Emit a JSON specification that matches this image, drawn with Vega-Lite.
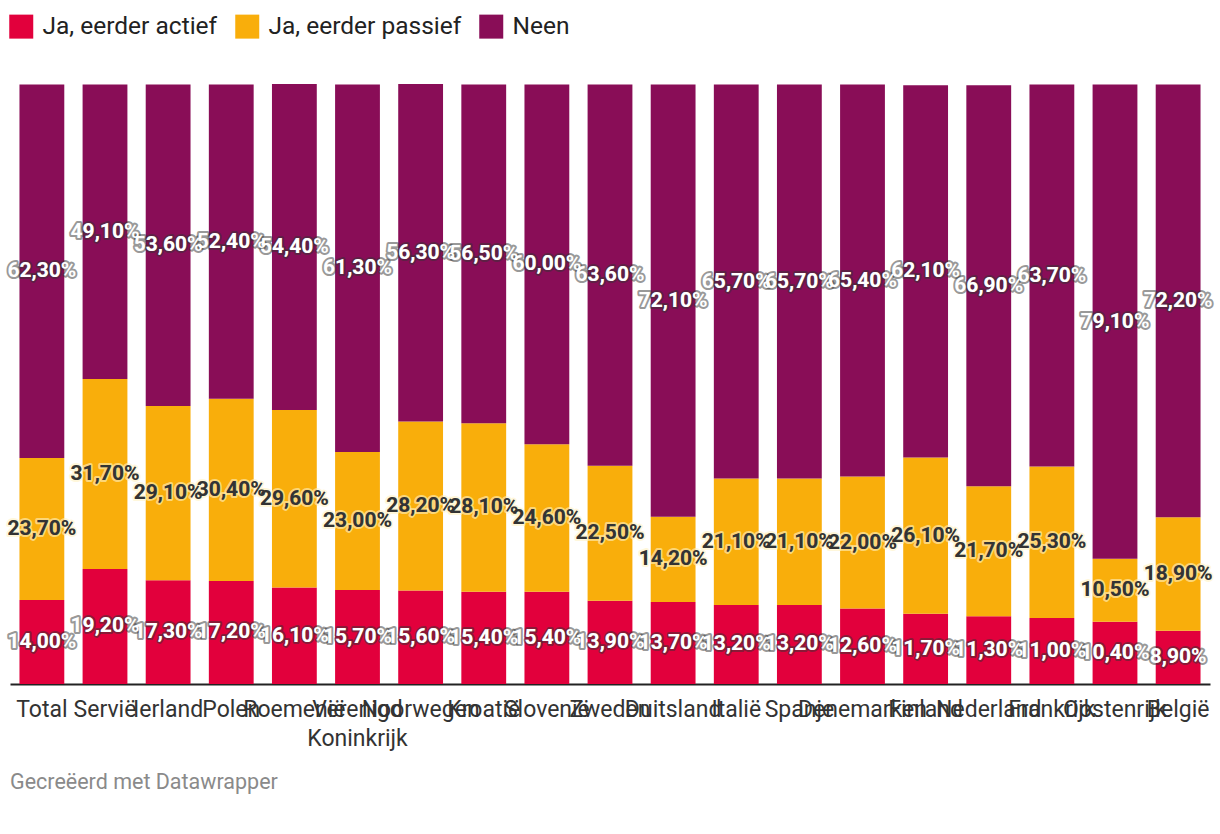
{
  "$schema": "https://vega.github.io/schema/vega-lite/v6.json",
  "autosize": "none",
  "width": 1200,
  "height": 600,
  "padding": {"left": 10, "top": 84, "right": 10, "bottom": 150},
  "background": "white",
  "config": {
    "font": "Roboto",
    "view": {"stroke": null},
    "locale": {"number": {"decimal": ",", "thousands": ".", "grouping": [3], "currency": ["", "%"]}}
  },
  "title": {
    "text": "Gecreëerd met Datawrapper",
    "orient": "bottom",
    "anchor": "start",
    "frame": "group",
    "offset": 22,
    "fontSize": 21.5,
    "fontWeight": "normal",
    "color": "#8a8a8a",
    "font": "Roboto"
  },
  "data": {
    "values": [
      {"country": "Total", "cat": "Ja, eerder actief", "value": 14.0},
      {"country": "Total", "cat": "Ja, eerder passief", "value": 23.7},
      {"country": "Total", "cat": "Neen", "value": 62.3},
      {"country": "Servië", "cat": "Ja, eerder actief", "value": 19.2},
      {"country": "Servië", "cat": "Ja, eerder passief", "value": 31.7},
      {"country": "Servië", "cat": "Neen", "value": 49.1},
      {"country": "Ierland", "cat": "Ja, eerder actief", "value": 17.3},
      {"country": "Ierland", "cat": "Ja, eerder passief", "value": 29.1},
      {"country": "Ierland", "cat": "Neen", "value": 53.6},
      {"country": "Polen", "cat": "Ja, eerder actief", "value": 17.2},
      {"country": "Polen", "cat": "Ja, eerder passief", "value": 30.4},
      {"country": "Polen", "cat": "Neen", "value": 52.4},
      {"country": "Roemenië", "cat": "Ja, eerder actief", "value": 16.1},
      {"country": "Roemenië", "cat": "Ja, eerder passief", "value": 29.6},
      {"country": "Roemenië", "cat": "Neen", "value": 54.4},
      {"country": "Verenigd Koninkrijk", "cat": "Ja, eerder actief", "value": 15.7},
      {"country": "Verenigd Koninkrijk", "cat": "Ja, eerder passief", "value": 23.0},
      {"country": "Verenigd Koninkrijk", "cat": "Neen", "value": 61.3},
      {"country": "Noorwegen", "cat": "Ja, eerder actief", "value": 15.6},
      {"country": "Noorwegen", "cat": "Ja, eerder passief", "value": 28.2},
      {"country": "Noorwegen", "cat": "Neen", "value": 56.3},
      {"country": "Kroatië", "cat": "Ja, eerder actief", "value": 15.4},
      {"country": "Kroatië", "cat": "Ja, eerder passief", "value": 28.1},
      {"country": "Kroatië", "cat": "Neen", "value": 56.5},
      {"country": "Slovenië", "cat": "Ja, eerder actief", "value": 15.4},
      {"country": "Slovenië", "cat": "Ja, eerder passief", "value": 24.6},
      {"country": "Slovenië", "cat": "Neen", "value": 60.0},
      {"country": "Zweden", "cat": "Ja, eerder actief", "value": 13.9},
      {"country": "Zweden", "cat": "Ja, eerder passief", "value": 22.5},
      {"country": "Zweden", "cat": "Neen", "value": 63.6},
      {"country": "Duitsland", "cat": "Ja, eerder actief", "value": 13.7},
      {"country": "Duitsland", "cat": "Ja, eerder passief", "value": 14.2},
      {"country": "Duitsland", "cat": "Neen", "value": 72.1},
      {"country": "Italië", "cat": "Ja, eerder actief", "value": 13.2},
      {"country": "Italië", "cat": "Ja, eerder passief", "value": 21.1},
      {"country": "Italië", "cat": "Neen", "value": 65.7},
      {"country": "Spanje", "cat": "Ja, eerder actief", "value": 13.2},
      {"country": "Spanje", "cat": "Ja, eerder passief", "value": 21.1},
      {"country": "Spanje", "cat": "Neen", "value": 65.7},
      {"country": "Denemarken", "cat": "Ja, eerder actief", "value": 12.6},
      {"country": "Denemarken", "cat": "Ja, eerder passief", "value": 22.0},
      {"country": "Denemarken", "cat": "Neen", "value": 65.4},
      {"country": "Finland", "cat": "Ja, eerder actief", "value": 11.7},
      {"country": "Finland", "cat": "Ja, eerder passief", "value": 26.1},
      {"country": "Finland", "cat": "Neen", "value": 62.1},
      {"country": "Nederland", "cat": "Ja, eerder actief", "value": 11.3},
      {"country": "Nederland", "cat": "Ja, eerder passief", "value": 21.7},
      {"country": "Nederland", "cat": "Neen", "value": 66.9},
      {"country": "Frankrijk", "cat": "Ja, eerder actief", "value": 11.0},
      {"country": "Frankrijk", "cat": "Ja, eerder passief", "value": 25.3},
      {"country": "Frankrijk", "cat": "Neen", "value": 63.7},
      {"country": "Oostenrijk", "cat": "Ja, eerder actief", "value": 10.4},
      {"country": "Oostenrijk", "cat": "Ja, eerder passief", "value": 10.5},
      {"country": "Oostenrijk", "cat": "Neen", "value": 79.1},
      {"country": "België", "cat": "Ja, eerder actief", "value": 8.9},
      {"country": "België", "cat": "Ja, eerder passief", "value": 18.9},
      {"country": "België", "cat": "Neen", "value": 72.2}
    ]
  },
  "transform": [
    {"stack": "value", "groupby": ["country"], "sort": [{"field": "cat", "order": "ascending"}], "as": ["v0", "v1"]},
    {"calculate": "(datum.v0 + datum.v1) / 2", "as": "vmid"}
  ],
  "encoding": {
    "x": {
      "field": "country",
      "type": "nominal",
      "sort": null,
      "title": null,
      "scale": {"paddingInner": 0.29, "paddingOuter": 0.15},
      "axis": {
        "labelAngle": 0,
        "labelFontSize": 23,
        "labelColor": "#333333",
        "labelFont": "Roboto",
        "labelPadding": 14,
        "labelOverlap": false,
        "labelLineHeight": 29,
        "labelBaseline": "top",
        "labelLimit": 400,
        "labelExpr": "datum.label == 'Verenigd Koninkrijk' ? ['Verenigd', 'Koninkrijk'] : datum.label",
        "ticks": false,
        "domainColor": "#222222",
        "domainWidth": 2,
        "grid": false
      }
    }
  },
  "layer": [
    {
      "mark": {"type": "bar"},
      "encoding": {
        "y": {"field": "v0", "type": "quantitative", "scale": {"domain": [0, 100.1], "nice": false}, "axis": null},
        "y2": {"field": "v1"},
        "color": {
          "field": "cat",
          "type": "nominal",
          "scale": {"domain": ["Ja, eerder actief", "Ja, eerder passief", "Neen"], "range": ["#e2003c", "#f9ae0b", "#890d57"]},
          "legend": {
            "title": null,
            "orient": "none",
            "legendX": -1,
            "legendY": -70,
            "direction": "horizontal",
            "symbolType": "square",
            "symbolSize": 576,
            "symbolStrokeWidth": 0,
            "symbolOpacity": 1,
            "labelFontSize": 24.5,
            "labelFont": "Roboto",
            "labelColor": "#222222",
            "labelOffset": 9,
            "columnPadding": 17,
            "labelLimit": 400
          }
        }
      }
    },
    {
      "mark": {"type": "text", "fontSize": 21, "fontWeight": "bold", "font": "Roboto", "strokeWidth": 4, "strokeJoin": "round", "baseline": "middle", "align": "center"},
      "encoding": {
        "y": {"field": "vmid", "type": "quantitative"},
        "text": {"field": "value", "type": "quantitative", "format": "$.2f"},
        "stroke": {"condition": {"test": "datum.cat == 'Ja, eerder passief'", "value": "#fff3c4"}, "value": "#333333"},
        "strokeOpacity": {"condition": {"test": "datum.cat == 'Ja, eerder passief'", "value": 0.6}, "value": 0.5},
        "color": {"condition": {"test": "datum.cat == 'Ja, eerder passief'", "value": "#333333"}, "value": "#ffffff"}
      }
    },
    {
      "mark": {"type": "text", "fontSize": 21, "fontWeight": "bold", "font": "Roboto", "baseline": "middle", "align": "center"},
      "encoding": {
        "y": {"field": "vmid", "type": "quantitative"},
        "text": {"field": "value", "type": "quantitative", "format": "$.2f"},
        "color": {"condition": {"test": "datum.cat == 'Ja, eerder passief'", "value": "#333333"}, "value": "#ffffff"}
      }
    }
  ]
}
